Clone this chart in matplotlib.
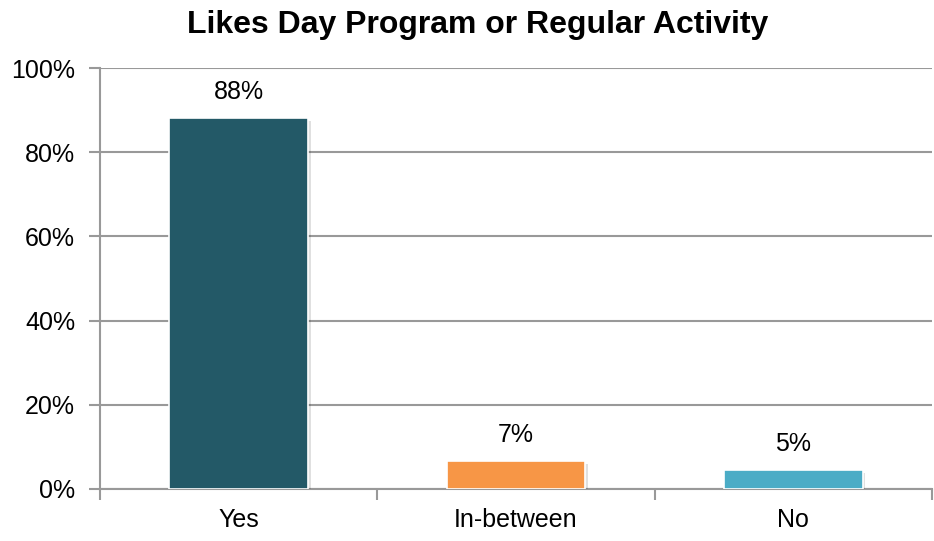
import matplotlib
matplotlib.use("Agg")
import matplotlib.pyplot as plt
import matplotlib.patheffects as pe
from matplotlib.ticker import FixedLocator

plt.rcParams['font.family'] = ['Liberation Sans', 'DejaVu Sans']

categories = ["Yes", "In-between", "No"]
values = [88.1, 6.6, 4.5]
labels = ["88%", "7%", "5%"]
colors = ["#235967", "#F79646", "#4BACC6"]
yticks = [0, 20, 40, 60, 80, 100]
ytick_labels = ["0%", "20%", "40%", "60%", "80%", "100%"]

fig = plt.figure(figsize=(9.34, 5.41), dpi=100)
ax = fig.add_axes([100/934, 52/541, 832/934, 421/541])

x = list(range(len(categories)))
bars = ax.bar(x, values, width=0.5, color=colors, edgecolor="white", linewidth=1.2, zorder=3)
for b in bars:
    b.set_path_effects([pe.SimplePatchShadow(offset=(2, -2), shadow_rgbFace="#000000", alpha=0.12), pe.Normal()])

for xi, v, lab in zip(x, values, labels):
    ax.annotate(lab, (xi, v), xytext=(0, 10), textcoords="offset points",
                ha="center", va="bottom", fontsize=18, color="#000000")

ax.set_xlim(-0.5, 2.5)
ax.set_ylim(0, 100)
ax.set_yticks(yticks)
ax.set_yticklabels(ytick_labels)
ax.set_xticks(x)
ax.set_xticklabels(categories)
ax.xaxis.set_minor_locator(FixedLocator([-0.5, 0.5, 1.5, 2.5]))
ax.tick_params(axis="x", which="major", length=0, pad=14, labelsize=18, labelcolor="#000000")
ax.tick_params(axis="x", which="minor", length=8, width=1.5, color="#999999", direction="out")
ax.tick_params(axis="y", length=8, width=1.5, color="#999999", pad=10, labelsize=18, labelcolor="#000000")

ax.grid(axis="y", color="#999999", linewidth=1.5, zorder=0)
ax.set_axisbelow(True)
for s in ["top", "right"]:
    ax.spines[s].set_visible(False)
for s in ["left", "bottom"]:
    ax.spines[s].set_color("#999999")
    ax.spines[s].set_linewidth(1.5)

fig.text(478/934, 1 - 25/541, "Likes Day Program or Regular Activity", ha="center", va="center",
         fontsize=23, fontweight="bold", color="#000000")

fig.savefig("out.png", dpi=100)
